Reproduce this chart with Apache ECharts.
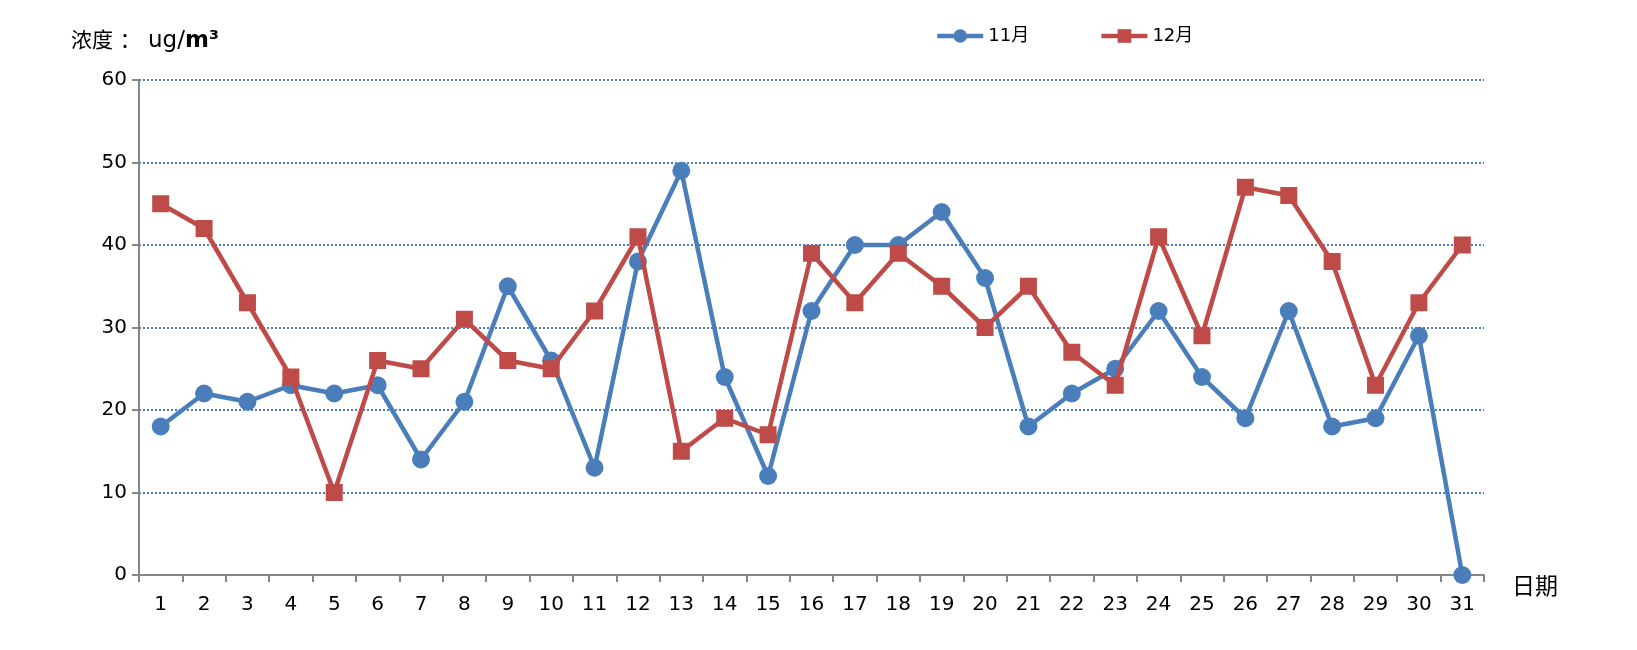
<!DOCTYPE html>
<html><head><meta charset="utf-8">
<script src="https://cdn.jsdelivr.net/npm/echarts@6/dist/echarts.min.js"></script>
<style>html,body{margin:0;padding:0;background:#fff}#c{width:1637px;height:650px}</style>
</head><body><div id="c"></div>
<script>
const days = ['1','2','3','4','5','6','7','8','9','10','11','12','13','14','15','16','17','18','19','20','21','22','23','24','25','26','27','28','29','30','31'];
const nov = [18,22,21,23,22,23,14,21,35,26,13,38,49,24,12,32,40,40,44,36,18,22,25,32,24,19,32,18,19,29,0];
const dec = [45,42,33,24,10,26,25,31,26,25,32,41,15,19,17,39,33,39,35,30,35,27,23,41,29,47,46,38,23,33,40];
const seriesNames = ['11月','12月'];
const yTitleCn = '浓度 ：';
const yTitleUnit = ' ug/';
const yTitleUnitBold = 'm³';
const xTitle = '日期';

const FONT = '"DejaVu Sans","Noto Sans CJK SC",sans-serif';
const chart = echarts.init(document.getElementById('c'));
chart.setOption({
  animation:false,
  textStyle:{fontFamily:FONT},
  title:{
    left:66, top:25,
    text:'{a|'+yTitleCn+'}{c|'+yTitleUnit+'}{b|'+yTitleUnitBold+'}',
    textStyle:{fontWeight:'normal',rich:{
      a:{fontSize:21,color:'#000',fontWeight:'normal',fontFamily:FONT},
      c:{fontSize:23,color:'#000',fontWeight:'normal',fontFamily:FONT},
      b:{fontSize:23,color:'#000',fontWeight:'bold',fontFamily:FONT}
    }}
  },
  legend:{
    top:22, left:930, itemGap:70, itemWidth:46, itemHeight:17,
    textStyle:{fontSize:18,color:'#000',fontFamily:FONT},
    lineStyle:{width:4.5},
    data:seriesNames
  },
  grid:{left:139, right:153, top:80, bottom:75, containLabel:false},
  xAxis:{
    type:'category', data:days, boundaryGap:true,
    name:xTitle, nameLocation:'end', nameGap:28,
    nameTextStyle:{fontSize:23,color:'#000',verticalAlign:'top',padding:[2,0,0,0],fontFamily:FONT},
    axisLine:{lineStyle:{color:'#868686',width:2}},
    axisTick:{show:true,length:7,lineStyle:{color:'#868686',width:2},alignWithLabel:false},
    axisLabel:{fontSize:20,color:'#000',margin:20,fontFamily:FONT}
  },
  yAxis:{
    type:'value', min:0, max:60, interval:10,
    axisLine:{show:true,lineStyle:{color:'#868686',width:2}},
    axisTick:{show:true,length:7,lineStyle:{color:'#868686',width:2}},
    axisLabel:{fontSize:20,color:'#000',margin:12,fontFamily:FONT},
    splitLine:{show:true,lineStyle:{color:'#4a7ebb',type:[2,2],width:2}}
  },
  series:[
    {name:seriesNames[0], type:'line', data:nov, symbol:'circle', symbolSize:18,
     lineStyle:{color:'#4a7ebb',width:4.5}, itemStyle:{color:'#4a7ebb'}, z:2},
    {name:seriesNames[1], type:'line', data:dec, symbol:'rect', symbolSize:17,
     lineStyle:{color:'#be4b48',width:4.5}, itemStyle:{color:'#be4b48'}, z:3}
  ]
});
</script></body></html>
